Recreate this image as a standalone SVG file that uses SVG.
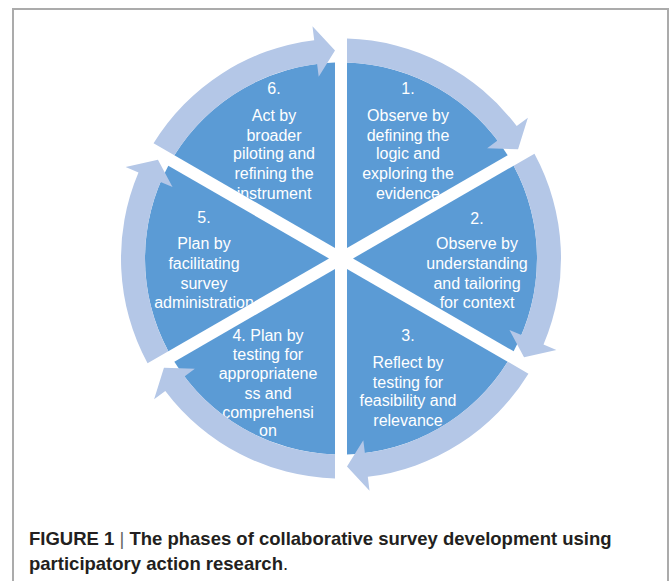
<svg xmlns="http://www.w3.org/2000/svg" xmlns:xlink="http://www.w3.org/1999/xlink" width="671" height="581" viewBox="0 0 671 581">
<style>
.sec{fill:#5B9BD5}
.arr{fill:#B4C7E7}
.lbl{font-family:"Liberation Sans",Arial,sans-serif;font-size:16px;fill:#FFFFFF;text-anchor:middle}
.cap{font-family:"Liberation Sans",Arial,sans-serif;font-size:18.5px;font-weight:bold;fill:#231F20}
.bar{font-weight:normal;fill:#666666}
</style>
<defs>
<path id="sector" d="M6 -10.392 L6 -195.908 A196 196 0 0 1 166.66 -103.15 Z"/>
<path id="arrow" d="M6 -219.918 A220 220 0 0 1 175.70 -132.40 L186.88 -140.82 L177.06 -109.15 L146.15 -110.13 L156.53 -117.96 A196 196 0 0 0 6 -195.908 Z"/>
<clipPath id="clip1"><use href="#sector" transform="translate(341 258.5)"/></clipPath>
<clipPath id="clip2"><use href="#sector" transform="translate(341 258.5) rotate(60)"/></clipPath>
<clipPath id="clip3"><use href="#sector" transform="translate(341 258.5) rotate(120)"/></clipPath>
<clipPath id="clip4"><use href="#sector" transform="translate(341 258.5) rotate(180)"/></clipPath>
<clipPath id="clip5"><use href="#sector" transform="translate(341 258.5) rotate(240)"/></clipPath>
<clipPath id="clip6"><use href="#sector" transform="translate(341 258.5) rotate(300)"/></clipPath>
</defs>
<rect x="13" y="9" width="655" height="590" fill="#FFFFFF" stroke="#ABABAB" stroke-width="2"/>

<g id="phase1">
<use href="#sector" class="sec" transform="translate(341 258.5)"/>
<g clip-path="url(#clip1)" class="lbl">
<text x="408" y="94">1.</text>
<text x="408" y="121">Observe by</text>
<text x="408" y="141">defining the</text>
<text x="408" y="159">logic and</text>
<text x="408" y="179">exploring the</text>
<text x="408" y="199">evidence</text>
</g>
</g>

<g id="phase2">
<use href="#sector" class="sec" transform="translate(341 258.5) rotate(60)"/>
<g clip-path="url(#clip2)" class="lbl">
<text x="477" y="224">2.</text>
<text x="477" y="249">Observe by</text>
<text x="477" y="269">understanding</text>
<text x="477" y="289">and tailoring</text>
<text x="477" y="308">for context</text>
</g>
</g>

<g id="phase3">
<use href="#sector" class="sec" transform="translate(341 258.5) rotate(120)"/>
<g clip-path="url(#clip3)" class="lbl">
<text x="408" y="341">3.</text>
<text x="408" y="368">Reflect by</text>
<text x="408" y="388">testing for</text>
<text x="408" y="406">feasibility and</text>
<text x="408" y="426">relevance</text>
</g>
</g>

<g id="phase4">
<use href="#sector" class="sec" transform="translate(341 258.5) rotate(180)"/>
<g clip-path="url(#clip4)" class="lbl">
<text x="268" y="341">4. Plan by</text>
<text x="268" y="360">testing for</text>
<text x="268" y="379">appropriatene</text>
<text x="268" y="399">ss and</text>
<text x="268" y="418">comprehensi</text>
<text x="268" y="436">on</text>
</g>
</g>

<g id="phase5">
<use href="#sector" class="sec" transform="translate(341 258.5) rotate(240)"/>
<g clip-path="url(#clip5)" class="lbl">
<text x="204" y="223">5.</text>
<text x="204" y="249">Plan by</text>
<text x="204" y="269">facilitating</text>
<text x="204" y="289">survey</text>
<text x="204" y="308">administration</text>
</g>
</g>

<g id="phase6">
<use href="#sector" class="sec" transform="translate(341 258.5) rotate(300)"/>
<g clip-path="url(#clip6)" class="lbl">
<text x="274" y="94">6.</text>
<text x="274" y="121">Act by</text>
<text x="274" y="141">broader</text>
<text x="274" y="159">piloting and</text>
<text x="274" y="179">refining the</text>
<text x="274" y="199">instrument</text>
</g>
</g>

<g id="connectors">
<use href="#arrow" class="arr" transform="translate(341 258.5)"/>
<use href="#arrow" class="arr" transform="translate(341 258.5) rotate(60)"/>
<use href="#arrow" class="arr" transform="translate(341 258.5) rotate(120)"/>
<use href="#arrow" class="arr" transform="translate(341 258.5) rotate(180)"/>
<use href="#arrow" class="arr" transform="translate(341 258.5) rotate(240)"/>
<use href="#arrow" class="arr" transform="translate(341 258.5) rotate(300)"/>
</g>

<g id="caption" class="cap">
<text x="29" y="545">FIGURE 1 <tspan class="bar">|</tspan> The phases of collaborative survey development using</text>
<text x="29" y="570">participatory action research<tspan font-weight="normal">.</tspan></text>
</g>
</svg>
